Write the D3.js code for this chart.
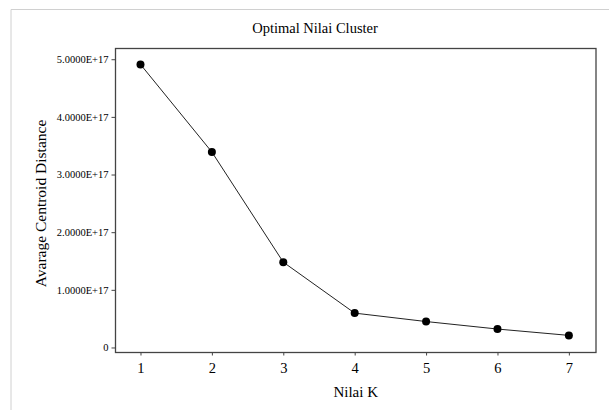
<!DOCTYPE html>
<html><head><meta charset="utf-8">
<script src="https://cdn.jsdelivr.net/npm/d3@7"></script>
<style>body{margin:0;background:#fff}svg{display:block}text{font-family:"Liberation Serif","Times New Roman",serif;fill:#000}</style>
</head><body><svg id="c" width="609" height="410"></svg>
<script>
const kValues = [1, 2, 3, 4, 5, 6, 7];
const avgCentroidDistance = [4.91e17, 3.39e17, 1.48e17, 0.596e17, 0.45e17, 0.32e17, 0.21e17];
const yTicks = [0, 1e17, 2e17, 3e17, 4e17, 5e17];
const yTickLabels = ["0", "1.0000E+17", "2.0000E+17", "3.0000E+17", "4.0000E+17", "5.0000E+17"];
const title = "Optimal Nilai Cluster";
const xTitle = "Nilai K";
const yTitle = "Avarage Centroid Distance";

const svg = d3.select("#c");
const L = 115.5, R = 596, T = 48.5, B = 352.5;
const x = d3.scaleLinear().domain([0.65, 7.38]).range([L, R]);
const y = d3.scaleLinear().domain([-0.087e17, 5.186e17]).range([B, T]);

// outer frame
svg.append("path").attr("d", "M11,609 V9.5 H609").attr("fill", "none").attr("stroke", "#d0d0d0").attr("stroke-width", 1);

// plot frame
svg.append("rect").attr("x", L).attr("y", T).attr("width", R - L).attr("height", B - T)
  .attr("fill", "none").attr("stroke", "#444").attr("stroke-width", 1.3);

const yAxis = svg.append("g").attr("transform", `translate(${L},0)`)
  .call(d3.axisLeft(y).tickValues(yTicks).tickSize(4).tickPadding(3).tickFormat((d, i) => yTickLabels[i]));
yAxis.select(".domain").remove();
yAxis.selectAll("line").attr("stroke", "#444");
yAxis.selectAll("text").style("font-size", "10.5px").style("font-family", '"Liberation Serif",serif');

const xAxis = svg.append("g").attr("transform", `translate(0,${B})`)
  .call(d3.axisBottom(x).tickValues(kValues).tickSize(3).tickPadding(7).tickFormat(d3.format("d")));
xAxis.select(".domain").remove();
xAxis.selectAll("line").attr("stroke", "#444");
xAxis.selectAll("text").style("font-size", "14.5px").style("font-family", '"Liberation Serif",serif');

const pts = kValues.map((k, i) => [k, avgCentroidDistance[i]]);
svg.append("path").datum(pts)
  .attr("d", d3.line().x(d => x(d[0])).y(d => y(d[1])))
  .attr("fill", "none").attr("stroke", "#222").attr("stroke-width", 1);
svg.selectAll("circle.p").data(pts).join("circle").attr("class", "p")
  .attr("cx", d => x(d[0])).attr("cy", d => y(d[1])).attr("r", 4).attr("fill", "#000");

svg.append("text").attr("x", 315).attr("y", 33).attr("text-anchor", "middle").style("font-size", "14.5px").text(title);
svg.append("text").attr("x", (L + R) / 2).attr("y", 397).attr("text-anchor", "middle").style("font-size", "15px").text(xTitle);
svg.append("text").attr("transform", `translate(46,${(T + B) / 2 + 3}) rotate(-90)`).attr("text-anchor", "middle").style("font-size", "15.5px").text(yTitle);
</script></body></html>
